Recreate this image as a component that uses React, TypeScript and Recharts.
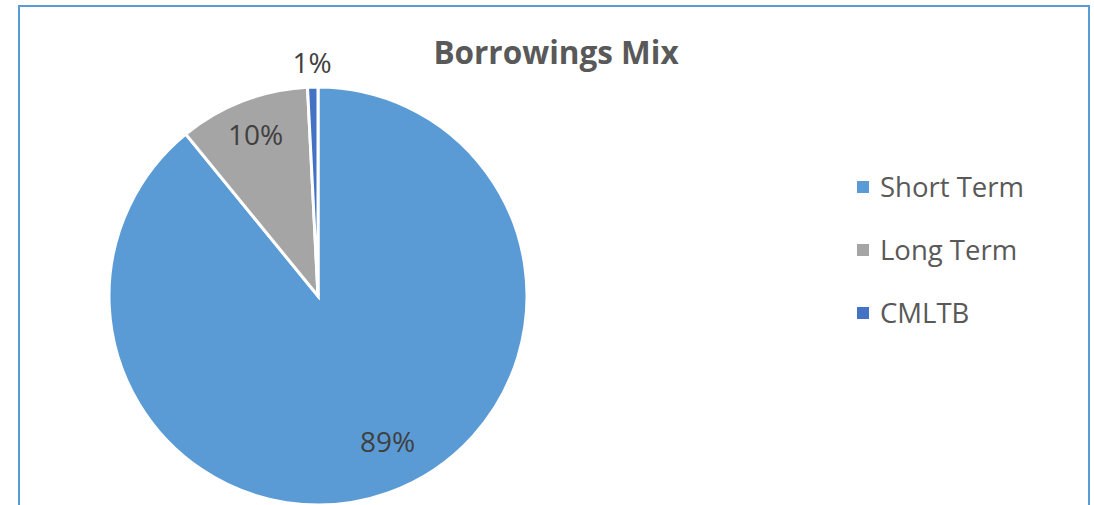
import { PieChart, Pie, Cell, Legend } from "recharts"

const categories = ["Short Term", "Long Term", "CMLTB"]
const shares = [89.1, 10.1, 0.8]
const colors = ["#5B9BD5", "#A5A5A5", "#4472C4"]

const data = categories.map((name, i) => ({ name, value: shares[i] }))

// where Excel put each data label, as a fraction of the radius
const labelRadius = [0.77, 0.83, 1.12]
const labelShift = [6, 0, 0]

const RAD = Math.PI / 180

function renderLabel(props: any) {
    const { cx, cy, midAngle, outerRadius, percent, index } = props
    const r = outerRadius * labelRadius[index]
    const a = (midAngle + labelShift[index]) * RAD
    const x = cx + r * Math.cos(a)
    const y = cy - r * Math.sin(a)
    return (
        <text
            x={x}
            y={y}
            fill="#404040"
            fontSize={28}
            fontFamily="Open Sans"
            textAnchor="middle"
            dominantBaseline="central"
        >
            {Math.round(percent * 100)}%
        </text>
    )
}

function LegendBox() {
    return (
        <div style={{ fontFamily: "Open Sans", color: "#595959", fontSize: 27.5 }}>
            {categories.map((c, i) => (
                <div
                    key={c}
                    style={{ display: "flex", alignItems: "center", height: 63 }}
                >
                    <span
                        style={{
                            width: 12,
                            height: 12,
                            background: colors[i],
                            marginRight: 11,
                            display: "inline-block",
                        }}
                    />
                    {c}
                </div>
            ))}
        </div>
    )
}

export default function App() {
    return (
        <div
            style={{
                position: "absolute",
                left: 0,
                top: 0,
                width: 1094,
                height: 505,
                overflow: "hidden",
                background: "#fff",
            }}
        >
            <div
                style={{
                    position: "absolute",
                    left: 18,
                    top: 5,
                    width: 1068,
                    height: 600,
                    border: "2px solid #5B9BD5",
                }}
            />
            <div
                style={{
                    position: "absolute",
                    left: 0,
                    width: 1112,
                    top: 32,
                    textAlign: "center",
                    fontFamily: "Open Sans",
                    fontWeight: 700,
                    fontSize: 31.5,
                    color: "#595959",
                    lineHeight: "40px",
                }}
            >
                Borrowings Mix
            </div>
            <div style={{ position: "absolute", left: 0, top: 0 }}>
                <PieChart
                    width={1094}
                    height={505}
                    margin={{ top: 0, right: 0, bottom: 0, left: 0 }}
                >
                    <Pie
                        data={data}
                        dataKey="value"
                        nameKey="name"
                        cx={318}
                        cy={296}
                        outerRadius={209}
                        startAngle={90}
                        endAngle={-270}
                        stroke="#ffffff"
                        strokeWidth={3}
                        label={renderLabel}
                        labelLine={false}
                        isAnimationActive={false}
                    >
                        {data.map((d, i) => (
                            <Cell key={d.name} fill={colors[i]} />
                        ))}
                    </Pie>
                    <Legend
                        content={<LegendBox />}
                        wrapperStyle={{ left: 857, top: 155, width: 230 }}
                    />
                </PieChart>
            </div>
        </div>
    )
}
